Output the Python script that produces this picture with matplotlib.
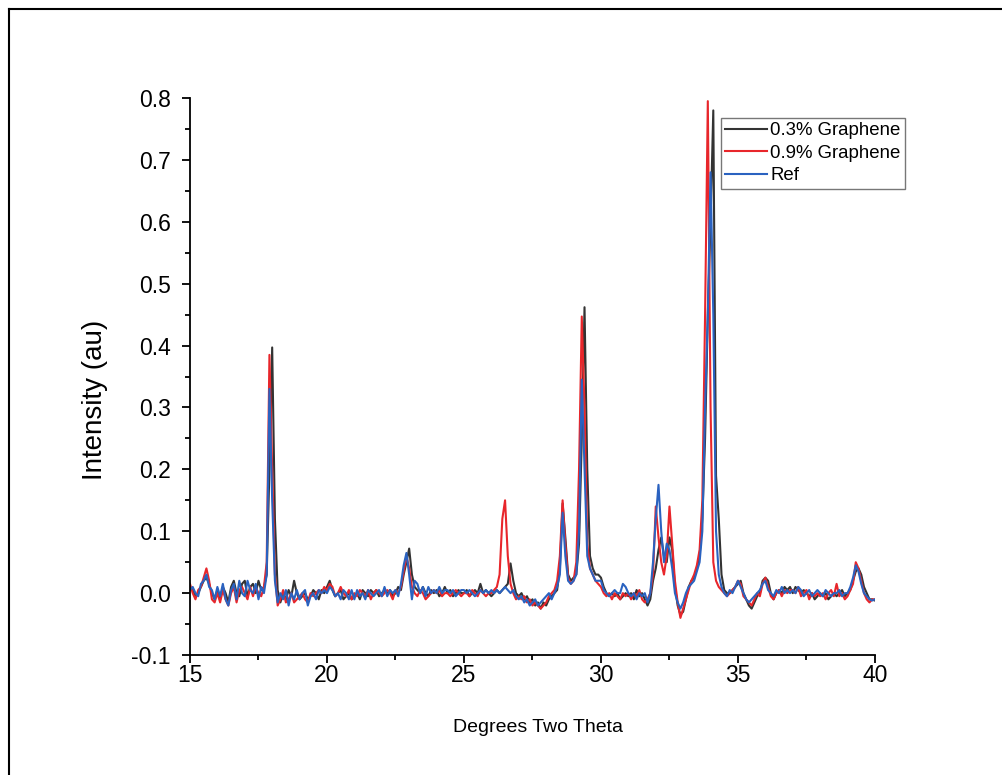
import matplotlib
matplotlib.use("Agg")
import matplotlib.pyplot as plt
import numpy as np
from matplotlib.lines import Line2D
from matplotlib.ticker import MultipleLocator

plt.rcParams['font.family'] = ['Liberation Sans', 'DejaVu Sans']
plt.rcParams['axes.unicode_minus'] = False

# 2theta grid, 0.1 deg step from 15 to 40
two_theta = np.round(np.arange(15.0, 40.05, 0.1), 2)

# 0.3% Graphene (rows = one degree each)
g03 = [
    0.01, 0.005, -0.005, 0.0, 0.01, 0.02, 0.025, 0.015, 0.0, -0.01,
    0.005, -0.01, 0.01, 0.0, -0.015, 0.01, 0.02, 0.0, -0.005, 0.015,
    0.02, -0.005, 0.01, 0.015, 0.0, 0.02, 0.005, 0.01, 0.03, 0.2,
    0.397, 0.12, 0.005, -0.015, 0.0, -0.01, 0.005, -0.005, 0.02, 0.0,
    -0.01, -0.005, 0.0, -0.01, -0.005, 0.005, 0.0, -0.01, 0.005, 0.0,
    0.01, 0.02, 0.005, -0.005, 0.0, 0.005, -0.01, -0.005, 0.0, -0.01,
    -0.005, 0.0, -0.01, 0.005, 0.0, -0.005, 0.005, 0.0, 0.005, -0.005,
    0.0, 0.005, 0.0, 0.005, -0.005, 0.0, 0.01, 0.005, 0.03, 0.05,
    0.072, 0.03, 0.01, 0.005, 0.0, 0.01, 0.0, -0.005, 0.005, 0.0,
    0.005, -0.005, 0.0, 0.01, 0.0, 0.005, -0.005, 0.0, 0.005, 0.0,
    0.0, 0.005, -0.005, 0.0, 0.005, 0.0, 0.015, 0.0, 0.005, 0.0,
    -0.005, 0.0, 0.005, 0.0, 0.005, 0.01, 0.015, 0.048, 0.02, 0.0,
    -0.005, 0.0, -0.01, -0.005, -0.015, -0.01, -0.02, -0.015, -0.025, -0.015,
    -0.02, -0.01, -0.005, 0.0, 0.005, 0.04, 0.145, 0.09, 0.03, 0.02,
    0.025, 0.03, 0.08, 0.25, 0.462, 0.2, 0.06, 0.04, 0.03, 0.03,
    0.025, 0.01, 0.0, -0.005, 0.0, -0.005, 0.0, -0.01, -0.005, 0.0,
    -0.005, 0.0, -0.01, 0.005, -0.005, 0.0, -0.01, -0.02, -0.01, 0.02,
    0.04, 0.07, 0.09, 0.06, 0.05, 0.09, 0.07, 0.01, -0.02, -0.035,
    -0.03, -0.01, 0.01, 0.02, 0.025, 0.04, 0.06, 0.12, 0.25, 0.45,
    0.6, 0.78, 0.19, 0.12, 0.03, 0.005, 0.0, 0.0, 0.005, 0.01,
    0.015, 0.02, 0.0, -0.01, -0.02, -0.025, -0.015, -0.005, 0.0, 0.02,
    0.025, 0.02, 0.0, -0.01, 0.0, 0.005, 0.0, 0.01, 0.005, 0.01,
    0.0, 0.01, 0.005, 0.0, 0.005, 0.0, -0.005, 0.0, -0.01, -0.005,
    0.0, -0.005, 0.0, -0.01, -0.005, 0.0, -0.005, 0.0, 0.005, -0.005,
    0.0, 0.005, 0.02, 0.035, 0.04, 0.03, 0.01, 0.0, -0.01, -0.01,
    -0.012,
]

# 0.9% Graphene
g09 = [
    0.015, 0.0, -0.01, 0.005, 0.01, 0.025, 0.04, 0.02, -0.01, -0.015,
    0.0, -0.015, 0.005, -0.01, -0.02, 0.0, 0.01, -0.015, 0.005, 0.01,
    0.0, -0.01, 0.01, -0.005, 0.01, 0.0, -0.005, 0.01, 0.05, 0.385,
    0.2, 0.03, -0.02, -0.01, 0.005, -0.015, -0.01, 0.0, -0.015, -0.01,
    -0.005, 0.0, -0.01, -0.015, 0.0, -0.005, 0.0, 0.005, 0.0, 0.01,
    0.005, 0.015, 0.01, -0.005, 0.0, 0.01, 0.0, -0.005, 0.005, -0.01,
    0.0, -0.005, 0.005, 0.0, -0.005, 0.005, -0.01, 0.0, 0.005, 0.0,
    -0.005, 0.0, 0.005, 0.0, -0.01, 0.005, 0.0, 0.01, 0.035, 0.06,
    0.04, 0.01, 0.0, -0.005, 0.005, 0.0, -0.01, -0.005, 0.0, 0.005,
    0.0, 0.005, -0.005, 0.0, 0.0, -0.005, 0.0, 0.005, 0.0, -0.005,
    0.0, 0.0, -0.005, 0.005, 0.0, -0.005, 0.005, 0.0, -0.005, 0.0,
    0.0, 0.005, 0.01, 0.03, 0.12, 0.15, 0.06, 0.015, 0.0, -0.01,
    -0.005, -0.01, -0.005, -0.015, -0.01, -0.02, -0.015, -0.02, -0.025, -0.02,
    -0.015, -0.005, 0.0, 0.005, 0.02, 0.06, 0.15, 0.08, 0.025, 0.015,
    0.02, 0.05, 0.2, 0.447, 0.3, 0.08, 0.04, 0.03, 0.02, 0.015,
    0.01, 0.0, -0.005, 0.0, -0.01, 0.0, -0.005, -0.01, 0.0, -0.005,
    0.0, -0.01, 0.0, -0.005, 0.005, -0.01, -0.015, -0.01, 0.0, 0.03,
    0.14, 0.09, 0.05, 0.03, 0.06, 0.14, 0.08, 0.02, -0.015, -0.04,
    -0.025, -0.01, 0.005, 0.02, 0.03, 0.045, 0.07, 0.15, 0.45, 0.795,
    0.3, 0.05, 0.02, 0.01, 0.005, 0.0, -0.005, 0.0, 0.005, 0.01,
    0.02, 0.015, -0.005, -0.01, -0.015, -0.02, -0.01, 0.0, -0.005, 0.015,
    0.025, 0.01, -0.005, -0.01, 0.0, 0.005, -0.005, 0.005, 0.0, 0.005,
    0.005, 0.0, 0.01, -0.005, 0.0, 0.005, -0.01, 0.0, -0.005, 0.0,
    -0.005, 0.0, -0.01, 0.0, 0.005, -0.005, 0.015, -0.005, 0.0, -0.01,
    -0.005, 0.005, 0.015, 0.05, 0.04, 0.02, 0.0, -0.01, -0.015, -0.01,
    -0.01,
]

# Ref
ref = [
    0.005, 0.01, 0.0, -0.005, 0.015, 0.02, 0.03, 0.01, 0.005, -0.01,
    0.01, -0.005, 0.015, -0.01, -0.02, 0.005, 0.015, -0.01, 0.02, 0.0,
    -0.005, 0.02, 0.005, 0.0, 0.015, -0.01, 0.01, 0.0, 0.03, 0.33,
    0.15, 0.02, -0.015, 0.0, -0.01, 0.005, -0.02, 0.0, -0.01, 0.005,
    -0.01, 0.0, 0.005, -0.02, -0.005, 0.0, -0.01, 0.005, 0.0, 0.005,
    0.0, 0.01, 0.005, -0.005, 0.0, -0.01, 0.005, 0.0, -0.01, 0.005,
    -0.01, 0.005, -0.005, 0.0, -0.01, 0.005, 0.0, -0.005, 0.0, 0.005,
    -0.005, 0.01, -0.005, 0.005, 0.0, 0.005, -0.005, 0.015, 0.045, 0.065,
    0.03, -0.01, 0.02, 0.015, 0.0, 0.01, -0.005, 0.01, 0.0, 0.005,
    0.0, 0.01, 0.0, 0.005, 0.005, 0.0, 0.005, -0.005, 0.0, 0.005,
    0.005, 0.0, 0.005, 0.0, -0.005, 0.0, 0.005, 0.0, 0.005, 0.0,
    0.005, 0.0, 0.005, 0.0, 0.005, 0.01, 0.005, 0.0, 0.005, -0.005,
    -0.01, -0.005, -0.015, -0.01, -0.02, -0.015, -0.01, -0.02, -0.015, -0.01,
    -0.005, 0.0, -0.01, 0.0, 0.01, 0.03, 0.13, 0.06, 0.02, 0.015,
    0.02, 0.03, 0.1, 0.345, 0.2, 0.06, 0.04, 0.03, 0.02, 0.02,
    0.02, 0.005, 0.0, -0.005, 0.0, 0.005, 0.0, 0.0, 0.015, 0.01,
    0.0, -0.005, 0.0, -0.01, 0.0, -0.005, 0.0, -0.015, 0.0, 0.05,
    0.12, 0.175, 0.1, 0.05, 0.08, 0.07, 0.04, 0.0, -0.015, -0.025,
    -0.015, 0.0, 0.01, 0.015, 0.02, 0.035, 0.05, 0.1, 0.3, 0.45,
    0.68, 0.45, 0.1, 0.03, 0.01, 0.0, -0.005, 0.005, 0.0, 0.01,
    0.02, 0.01, 0.0, -0.01, -0.015, -0.01, -0.005, 0.0, 0.005, 0.015,
    0.02, 0.005, 0.0, -0.005, 0.005, 0.0, 0.01, 0.0, 0.005, 0.0,
    0.005, 0.0, 0.01, 0.005, -0.005, 0.0, 0.005, -0.005, 0.0, 0.005,
    0.0, -0.005, 0.005, 0.0, -0.005, 0.0, 0.0, 0.005, -0.005, 0.0,
    0.0, 0.01, 0.025, 0.045, 0.035, 0.015, 0.0, -0.005, -0.01, -0.012,
    -0.01,
]

labels = ['0.3% Graphene', '0.9% Graphene', 'Ref']
colors = ['#333333', '#e8262b', '#2a62c0']

fig = plt.figure(figsize=(10.02, 7.75), dpi=100)
ax = fig.add_axes([0.1896, 0.1548, 0.6836, 0.7187])

for ys, lab, col in zip([g03, g09, ref], labels, colors):
    ax.plot(two_theta, ys, color=col, lw=1.5, label=lab)

ax.set_xlim(15, 40)
ax.set_ylim(-0.1, 0.8)
ax.xaxis.set_major_locator(MultipleLocator(5))
ax.xaxis.set_minor_locator(MultipleLocator(2.5))
ax.yaxis.set_major_locator(MultipleLocator(0.1))
ax.yaxis.set_minor_locator(MultipleLocator(0.05))
ax.yaxis.set_major_formatter(plt.FuncFormatter(lambda v, p: f'{v:.1f}'))

for s in ['top', 'right']:
    ax.spines[s].set_visible(False)
for s in ['left', 'bottom']:
    ax.spines[s].set_linewidth(1.3)
ax.tick_params(which='major', direction='out', length=6, width=1.3, labelsize=16.5)
ax.tick_params(which='minor', direction='out', length=3.5, width=1.3)
ax.tick_params(axis='y', which='major', pad=8)
ax.tick_params(axis='x', which='major', pad=0.5)

# axis titles placed in figure pixels as in the original
fig.text(538 / 1002, 1 - 727 / 775, 'Degrees Two Theta', fontsize=14,
         ha='center', va='center')
fig.text(95 / 1002, 1 - 400 / 775, 'Intensity (au)', fontsize=20,
         ha='center', va='center', rotation=90)

leg = ax.legend(loc='upper left', bbox_to_anchor=(0.775, 0.965), borderaxespad=0,
                fontsize=13.4, frameon=True, fancybox=False, edgecolor='#555555',
                handlelength=2.25, handletextpad=0.15, labelspacing=0.3,
                borderpad=0.25)
leg.get_frame().set_linewidth(1.0)

# outer frame (only left and top edges visible in the crop)
fig.add_artist(Line2D([9/1002, 9/1002], [0, 1 - 9/775], color='black', lw=1.5,
                      transform=fig.transFigure))
fig.add_artist(Line2D([9/1002, 1], [1 - 9/775, 1 - 9/775], color='black', lw=1.5,
                      transform=fig.transFigure))

fig.savefig('out.png', dpi=100)
